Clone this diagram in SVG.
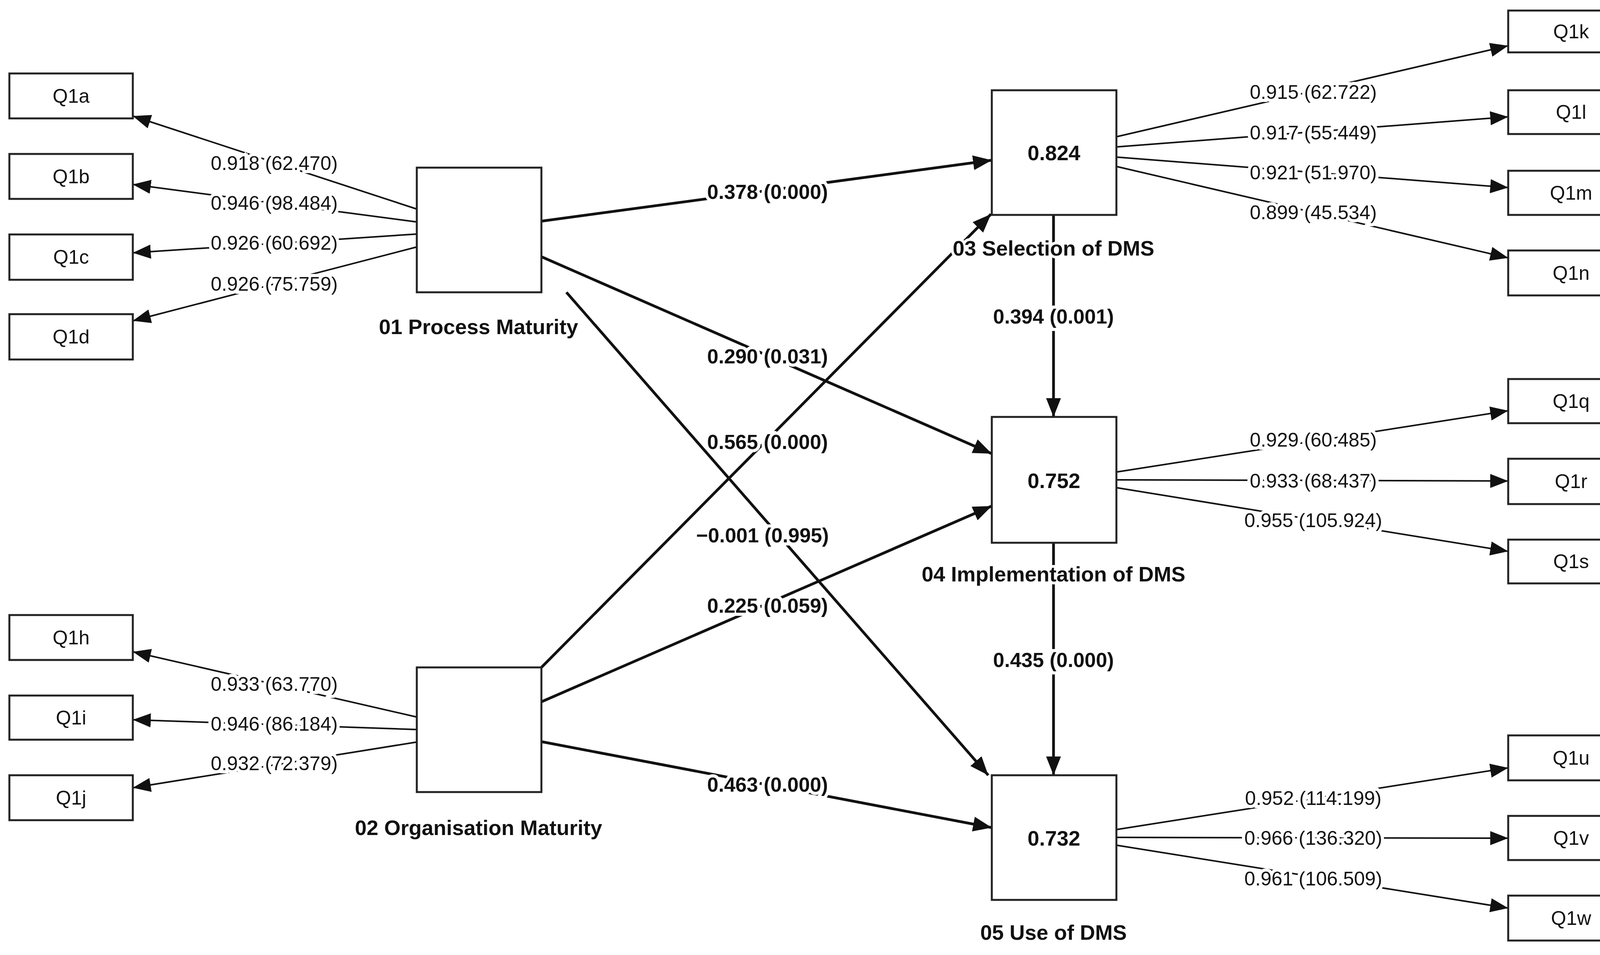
<svg xmlns="http://www.w3.org/2000/svg" width="4204" height="2444" viewBox="0 0 4204 2444">
<style>
rect{fill:#fff;stroke:#222;stroke-width:5}
text{font-family:"Liberation Sans",Arial,sans-serif;fill:#111;text-anchor:middle;dominant-baseline:central}
.ind{font-size:50px}
.lv{font-size:54px;font-weight:bold;paint-order:stroke;stroke:#fff;stroke-width:14px}
.ld{font-size:50px;paint-order:stroke;stroke:#fff;stroke-width:16px}
.pl{font-size:52px;font-weight:bold;paint-order:stroke;stroke:#fff;stroke-width:16px}
.c line{stroke:#111;stroke-width:4;marker-end:url(#a)}
.c line.s{stroke-width:7;marker-end:url(#b)}
</style>
<defs>
<marker id="a" markerUnits="userSpaceOnUse" markerWidth="50" markerHeight="40" refX="46" refY="18" orient="auto"><path d="M0,0 L46,18 L0,36 Z" fill="#111"/></marker>
<marker id="b" markerUnits="userSpaceOnUse" markerWidth="50" markerHeight="40" refX="48" refY="19" orient="auto"><path d="M0,0 L48,19 L0,38 Z" fill="#111"/></marker>
</defs>
<rect width="4204" height="2444" style="fill:#fff;stroke:none"/>
<g class="c" id="connectors">
<line x1="1067" y1="535" x2="340" y2="297"/>
<line x1="1067" y1="568" x2="340" y2="472"/>
<line x1="1067" y1="599" x2="340" y2="647"/>
<line x1="1067" y1="632" x2="340" y2="821"/>
<line x1="1067" y1="1835" x2="340" y2="1668"/>
<line x1="1067" y1="1867" x2="340" y2="1842"/>
<line x1="1067" y1="1899" x2="340" y2="2016"/>
<line x1="2858" y1="350" x2="3861" y2="117"/>
<line x1="2858" y1="376" x2="3861" y2="299"/>
<line x1="2858" y1="402" x2="3861" y2="480"/>
<line x1="2858" y1="426" x2="3861" y2="660"/>
<line x1="2858" y1="1208" x2="3861" y2="1051"/>
<line x1="2858" y1="1228" x2="3861" y2="1231"/>
<line x1="2858" y1="1248" x2="3861" y2="1411"/>
<line x1="2858" y1="2123" x2="3861" y2="1965"/>
<line x1="2858" y1="2143" x2="3861" y2="2145"/>
<line x1="2858" y1="2163" x2="3861" y2="2324"/>
<line class="s" x1="1386" y1="566" x2="2539" y2="410"/>
<line class="s" x1="1386" y1="657" x2="2539" y2="1161"/>
<line class="s" x1="1450" y1="748" x2="2530" y2="1984"/>
<line class="s" x1="1386" y1="1708" x2="2537" y2="548"/>
<line class="s" x1="1386" y1="1796" x2="2539" y2="1295"/>
<line class="s" x1="1386" y1="1898" x2="2539" y2="2118"/>
<line class="s" x1="2697" y1="550" x2="2697" y2="1067"/>
<line class="s" x1="2697" y1="1389" x2="2697" y2="1984"/>
</g>
<g id="labels">
<text class="ld" x="702" y="418">0.918 (62.470)</text>
<text class="ld" x="702" y="520">0.946 (98.484)</text>
<text class="ld" x="702" y="622">0.926 (60.692)</text>
<text class="ld" x="702" y="727">0.926 (75.759)</text>
<text class="ld" x="702" y="1751">0.933 (63.770)</text>
<text class="ld" x="702" y="1853">0.946 (86.184)</text>
<text class="ld" x="702" y="1954">0.932 (72.379)</text>
<text class="ld" x="3362" y="236">0.915 (62.722)</text>
<text class="ld" x="3362" y="340">0.917 (55.449)</text>
<text class="ld" x="3362" y="442">0.921 (51.970)</text>
<text class="ld" x="3362" y="544">0.899 (45.534)</text>
<text class="ld" x="3362" y="1126">0.929 (60.485)</text>
<text class="ld" x="3362" y="1231">0.933 (68.437)</text>
<text class="ld" x="3362" y="1332">0.955 (105.924)</text>
<text class="ld" x="3362" y="2043">0.952 (114.199)</text>
<text class="ld" x="3362" y="2145">0.966 (136.320)</text>
<text class="ld" x="3362" y="2249">0.961 (106.509)</text>
<text class="pl" x="1965" y="491">0.378 (0.000)</text>
<text class="pl" x="1965" y="912">0.290 (0.031)</text>
<text class="pl" x="1965" y="1131">0.565 (0.000)</text>
<text class="pl" x="1952" y="1370">−0.001 (0.995)</text>
<text class="pl" x="1965" y="1550">0.225 (0.059)</text>
<text class="pl" x="1965" y="2008">0.463 (0.000)</text>
<text class="pl" x="2697" y="810">0.394 (0.001)</text>
<text class="pl" x="2697" y="1689">0.435 (0.000)</text>
</g>
<g id="n01"><rect x="1067" y="429" width="319" height="319"/><text class="lv" x="1225" y="836">01 Process Maturity</text></g>
<g id="n02"><rect x="1067" y="1708" width="319" height="319"/><text class="lv" x="1225" y="2118">02 Organisation Maturity</text></g>
<g id="n03"><rect x="2539" y="231" width="319" height="319"/><text class="lv" x="2698" y="391">0.824</text><text class="lv" x="2697" y="635">03 Selection of DMS</text></g>
<g id="n04"><rect x="2539" y="1067" width="319" height="322"/><text class="lv" x="2698" y="1230">0.752</text><text class="lv" x="2697" y="1469">04 Implementation of DMS</text></g>
<g id="n05"><rect x="2539" y="1984" width="319" height="319"/><text class="lv" x="2698" y="2145">0.732</text><text class="lv" x="2697" y="2386">05 Use of DMS</text></g>
<g id="Q1a"><rect x="24" y="188" width="316" height="115"/><text class="ind" x="182" y="246">Q1a</text></g>
<g id="Q1b"><rect x="24" y="394" width="316" height="115"/><text class="ind" x="182" y="452">Q1b</text></g>
<g id="Q1c"><rect x="24" y="600" width="316" height="116"/><text class="ind" x="182" y="658">Q1c</text></g>
<g id="Q1d"><rect x="24" y="804" width="316" height="116"/><text class="ind" x="182" y="862">Q1d</text></g>
<g id="Q1h"><rect x="24" y="1574" width="316" height="115"/><text class="ind" x="182" y="1632">Q1h</text></g>
<g id="Q1i"><rect x="24" y="1780" width="316" height="113"/><text class="ind" x="182" y="1837">Q1i</text></g>
<g id="Q1j"><rect x="24" y="1984" width="316" height="115"/><text class="ind" x="182" y="2042">Q1j</text></g>
<g id="Q1k"><rect x="3861" y="27" width="321" height="107"/><text class="ind" x="4022" y="81">Q1k</text></g>
<g id="Q1l"><rect x="3861" y="231" width="321" height="112"/><text class="ind" x="4022" y="287">Q1l</text></g>
<g id="Q1m"><rect x="3861" y="437" width="321" height="113"/><text class="ind" x="4022" y="494">Q1m</text></g>
<g id="Q1n"><rect x="3861" y="641" width="321" height="115"/><text class="ind" x="4022" y="699">Q1n</text></g>
<g id="Q1q"><rect x="3861" y="970" width="321" height="113"/><text class="ind" x="4022" y="1027">Q1q</text></g>
<g id="Q1r"><rect x="3861" y="1174" width="321" height="116"/><text class="ind" x="4022" y="1232">Q1r</text></g>
<g id="Q1s"><rect x="3861" y="1381" width="321" height="112"/><text class="ind" x="4022" y="1437">Q1s</text></g>
<g id="Q1u"><rect x="3861" y="1882" width="321" height="115"/><text class="ind" x="4022" y="1940">Q1u</text></g>
<g id="Q1v"><rect x="3861" y="2088" width="321" height="113"/><text class="ind" x="4022" y="2145">Q1v</text></g>
<g id="Q1w"><rect x="3861" y="2292" width="321" height="115"/><text class="ind" x="4022" y="2350">Q1w</text></g>
</svg>
